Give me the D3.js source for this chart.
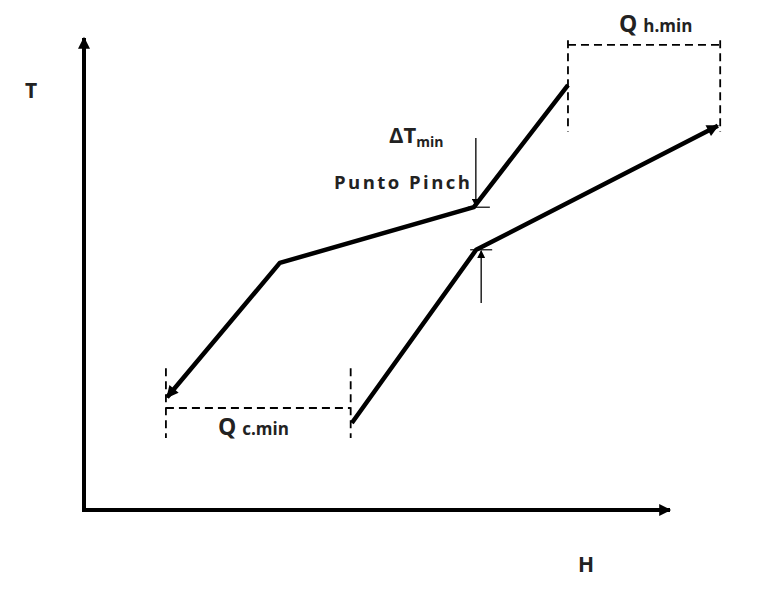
<!DOCTYPE html>
<html lang="es">
<head>
<meta charset="UTF-8">
<title>Punto Pinch</title>
<script src="https://d3js.org/d3.v7.min.js"></script>
<style>
  body { margin: 0; background: #fff; }
  text { font-family: "Open Sans", sans-serif; font-weight: bold; fill: #222; }
</style>
</head>
<body>
<div id="chart"></div>
<script>
const width = 774, height = 600;

// curves in H/T units (0..100 along the axes)
const hotCurve = [[83.3, 90.8], [67.1, 64.7], [33.7, 52.8], [14.3, 24.1]];
const coldCurve = [[46.1, 18.6], [67.5, 55.6], [109.1, 82.1]];
const pinchHot = [67.1, 64.7];
const pinchCold = [67.5, 55.6];
// Q boxes: [x0, x1, yLine, yTop, yBottom]
const qHot = [83.3, 109.5, 99.4, 100.4, 80.8];
const qCold = [14.1, 45.9, 21.8, 30.3, 15.4];

const x = d3.scaleLinear().domain([0, 100]).range([84, 665]);
const y = d3.scaleLinear().domain([0, 100]).range([510, 42]);

const svg = d3.select("#chart").append("svg")
  .attr("width", width).attr("height", height);

const defs = svg.append("defs");
function marker(id, w, h) {
  defs.append("marker").attr("id", id)
    .attr("viewBox", "0 0 10 10").attr("refX", 9).attr("refY", 5)
    .attr("markerWidth", w).attr("markerHeight", h)
    .attr("markerUnits", "userSpaceOnUse").attr("orient", "auto")
    .append("path").attr("d", "M0,0L10,5L0,10Z").attr("fill", "#000");
}
marker("big", 15, 12);
marker("small", 9, 8);

// axes
svg.append("line").attr("x1", x(0)).attr("y1", y(0)).attr("x2", x(0)).attr("y2", 38)
  .attr("stroke", "#000").attr("stroke-width", 4).attr("marker-end", "url(#big)");
svg.append("line").attr("x1", x(0) - 2).attr("y1", y(0)).attr("x2", 670).attr("y2", y(0))
  .attr("stroke", "#000").attr("stroke-width", 4).attr("marker-end", "url(#big)");

const line = d3.line().x(d => x(d[0])).y(d => y(d[1]));
[hotCurve, coldCurve].forEach(c => {
  svg.append("path").attr("d", line(c)).attr("fill", "none")
    .attr("stroke", "#000").attr("stroke-width", 4.5)
    .attr("stroke-linejoin", "round").attr("marker-end", "url(#big)");
});

// dashed Q boxes
function qBox(q) {
  const g = svg.append("g").attr("stroke", "#000").attr("stroke-width", 1.8)
    .attr("stroke-dasharray", "8,5").attr("fill", "none");
  g.append("line").attr("x1", x(q[0])).attr("x2", x(q[1])).attr("y1", y(q[2])).attr("y2", y(q[2]));
  [q[0], q[1]].forEach(v => g.append("line").attr("x1", x(v)).attr("x2", x(v))
    .attr("y1", y(q[3])).attr("y2", y(q[4])));
}
qBox(qHot);
qBox(qCold);

// pinch ticks and delta T arrows
[pinchHot, pinchCold].forEach(p => {
  svg.append("line").attr("x1", x(p[0]) - 6).attr("x2", x(p[0]) + 16)
    .attr("y1", y(p[1])).attr("y2", y(p[1])).attr("stroke", "#000").attr("stroke-width", 1.2);
});
svg.append("line").attr("x1", x(pinchHot[0]) + 2).attr("x2", x(pinchHot[0]) + 2)
  .attr("y1", 138).attr("y2", y(pinchHot[1]) - 1)
  .attr("stroke", "#000").attr("stroke-width", 1.3).attr("marker-end", "url(#small)");
svg.append("line").attr("x1", x(pinchCold[0]) + 5).attr("x2", x(pinchCold[0]) + 5)
  .attr("y1", 303).attr("y2", y(pinchCold[1]) + 1)
  .attr("stroke", "#000").attr("stroke-width", 1.3).attr("marker-end", "url(#small)");

// labels
svg.append("text").attr("x", 25).attr("y", 98).attr("font-size", 21).text("T");
svg.append("text").attr("x", 578).attr("y", 572).attr("font-size", 21).text("H");
svg.append("text").attr("x", 334).attr("y", 189).attr("font-size", 18.5)
  .attr("textLength", 136).text("Punto Pinch");
const dt = svg.append("text").attr("x", 389).attr("y", 143).attr("font-size", 22)
  .attr("font-weight", "normal");
dt.append("tspan").text("ΔT");
dt.append("tspan").attr("font-size", 14).attr("dy", 4).attr("font-weight", "bold").text("min");
const qh = svg.append("text").attr("x", 619).attr("y", 32).attr("font-size", 23);
qh.append("tspan").text("Q ");
qh.append("tspan").attr("font-size", 17).text("h.min");
const qc = svg.append("text").attr("x", 218).attr("y", 435).attr("font-size", 23);
qc.append("tspan").text("Q ");
qc.append("tspan").attr("font-size", 17).text("c.min");
</script>
</body>
</html>
